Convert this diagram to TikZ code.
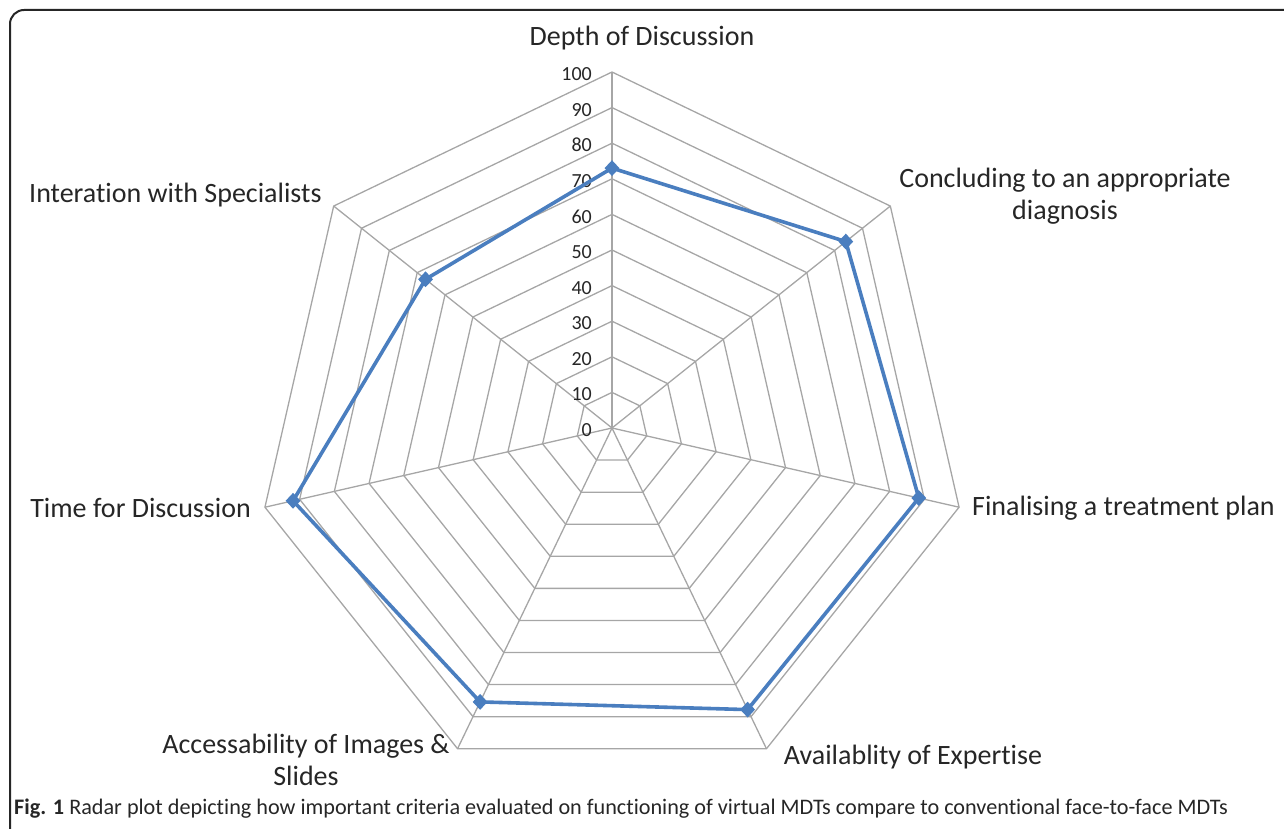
\documentclass[tikz,border=0pt]{standalone}
\usepackage{fontspec}
\setmainfont[Ligatures={NoCommon}]{Carlito}
\usetikzlibrary{shapes.geometric}
\definecolor{gridgray}{HTML}{A6A6A6}
\definecolor{series}{HTML}{4A7EBF}
\definecolor{txt}{HTML}{262626}
\begin{document}
\begin{tikzpicture}[x=1pt,y=-1pt,
  gridline/.style={draw=gridgray, line width=1.3pt},
  dataline/.style={draw=series, line width=3.6pt, line join=round},
  marker/.style={diamond, fill=series, inner sep=0pt, minimum width=15pt, minimum height=16pt},
  axislabel/.style={font=\fontsize{28}{32}\selectfont, text=txt, align=center, inner sep=0pt},
  ticklabel/.style={font=\fontsize{20}{22}\selectfont, text=txt, anchor=east, inner sep=0pt},
  framebox/.style={draw=black!85, line width=2pt, rounded corners=14pt}]
\useasboundingbox (0,0) rectangle (1284,829);
\begin{scope}
  \clip (0,0) rectangle (1284,829);
  \draw[framebox] (1300,10) -- (10,10) -- (10,842) -- (1300,842);
\end{scope}
\begin{scope}[shift={(612,428)}, yscale=-1]
  \coordinate (O) at (0,0);
  \foreach \i in {0,...,6} {
    \coordinate (A\i) at ({90-\i*360/7}:356);
    \draw[gridline] (O) -- (A\i);
  }
  \foreach \k in {1,...,10} {
    \draw[gridline] (90:{35.6*\k}) \foreach \i in {1,...,6} { -- ({90-\i*360/7}:{35.6*\k}) } -- cycle;
  }
  \foreach \k in {0,...,10} {
    \pgfmathtruncatemacro{\v}{10*\k}
    \node[ticklabel] (T\k) at (-20,{35.6*\k-2}) {\v};
  }
  \foreach \v [count=\i from 0] in {73,84,88.4,87.8,85.4,91.9,67} {
    \coordinate (P\i) at ({90-\i*360/7}:{3.56*\v});
  }
  \draw[dataline] (P0) -- (P1) -- (P2) -- (P3) -- (P4) -- (P5) -- (P6) -- cycle;
  \foreach \i in {0,...,6} {
    \node[marker] (M\i) at (P\i) {};
  }
\end{scope}
\node[axislabel] (L0) at (642,38) {Depth of Discussion};
\node[axislabel] (L1) at (1065,196) {Concluding to an appropriate\\diagnosis};
\node[axislabel, anchor=west] (L2) at (972,508) {Finalising a treatment plan};
\node[axislabel] (L3) at (913,757) {Availablity of Expertise};
\node[axislabel] (L4) at (306,760) {Accessability of Images \&\\Slides};
\node[axislabel, anchor=east] (L5) at (251,508) {Time for Discussion};
\node[axislabel, anchor=west] (L6) at (29,195) {Interation with Specialists};
\node[anchor=west, inner sep=0pt, font=\fontsize{22.2}{24}\selectfont, text=txt] (cap) at (14,809) {\textbf{Fig. 1} Radar plot depicting how important criteria evaluated on functioning of virtual MDTs compare to conventional face-to-face MDTs};
\end{tikzpicture}
\end{document}
